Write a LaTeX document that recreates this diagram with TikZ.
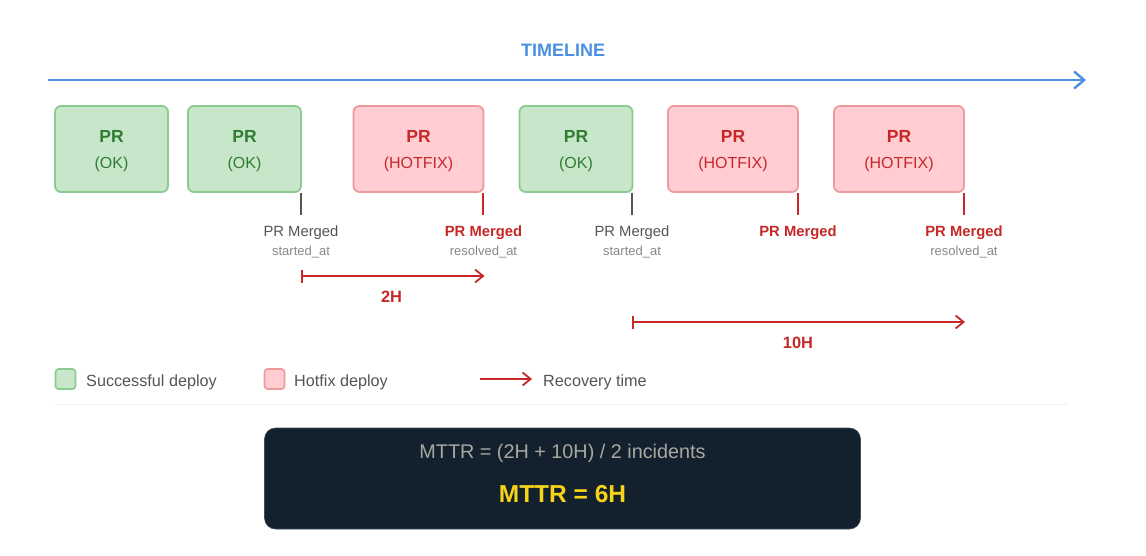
\documentclass[tikz,border=0pt]{standalone}
\usepackage{fontspec}
\setmainfont{Liberation Sans}
\usetikzlibrary{arrows.meta}
\definecolor{okfill}{HTML}{C8E6C9}
\definecolor{okdraw}{HTML}{8CCB8F}
\definecolor{oktext}{HTML}{2E7D32}
\definecolor{hffill}{HTML}{FFCDD2}
\definecolor{hfdraw}{HTML}{EF9A9A}
\definecolor{hftext}{HTML}{C62828}
\definecolor{tlblue}{HTML}{4A90E2}
\definecolor{graytext}{HTML}{555555}
\definecolor{lighttext}{HTML}{888888}
\definecolor{darkbg}{HTML}{13212F}
\definecolor{mttrgray}{HTML}{A8A8A0}
\definecolor{mttryellow}{HTML}{F7D417}
\begin{document}
\begin{tikzpicture}[x=1pt,y=-1pt,
  okbox/.style={draw=okdraw,fill=okfill,line width=1.8pt,rounded corners=6pt,minimum width=113pt,minimum height=86pt,inner sep=0pt},
  hfbox/.style={draw=hfdraw,fill=hffill,line width=1.8pt,rounded corners=6pt,minimum width=130pt,minimum height=86pt,inner sep=0pt},
  txt/.style={inner sep=0pt,anchor=base},
  boxtitle/.style={txt,font=\fontsize{17.5}{20}\selectfont\bfseries},
  boxsub/.style={txt,font=\fontsize{16}{19}\selectfont},
  mergedgray/.style={txt,font=\fontsize{14.8}{17}\selectfont,text=graytext},
  mergedred/.style={txt,font=\fontsize{14.8}{17}\selectfont\bfseries,text=hftext},
  smalllabel/.style={txt,font=\fontsize{13}{15}\selectfont,text=lighttext},
  tickgray/.style={draw=graytext,line width=1.6pt},
  tickred/.style={draw=hftext,line width=2pt},
  recarrow/.style={draw=hftext,line width=1.8pt,{Bar[width=13pt]}-{Straight Barb[length=8pt,width=13pt]}},
  legarrow/.style={draw=hftext,line width=1.8pt,-{Straight Barb[length=8pt,width=13pt]}},
  durlabel/.style={txt,font=\fontsize{16.4}{19}\selectfont\bfseries,text=hftext},
  legtext/.style={txt,font=\fontsize{16.2}{19}\selectfont,text=graytext},
]
\useasboundingbox (0,0) rectangle (1146,555);
\fill[white] (0,0) rectangle (1146,555);

% Timeline
\node[txt,font=\fontsize{18}{21}\selectfont\bfseries,text=tlblue] (tl) at (563,56) {TIMELINE};
\coordinate (tls) at (48,80);
\coordinate (tle) at (1086,80);
\draw[draw=tlblue,line width=2.4pt,-{Straight Barb[length=10pt,width=17pt]}] (tls) -- (tle);

% Boxes
\node[okbox] (b1) at (111.5,149) {};
\node[okbox] (b2) at (244.5,149) {};
\node[hfbox] (b3) at (418.5,149) {};
\node[okbox] (b4) at (576,149) {};
\node[hfbox] (b5) at (733,149) {};
\node[hfbox] (b6) at (899,149) {};

\node[boxtitle,text=oktext] (b1a) at (111.5,142) {PR};
\node[boxsub,text=oktext] (b1b) at (111.5,168.5) {(OK)};
\node[boxtitle,text=oktext] (b2a) at (244.5,142) {PR};
\node[boxsub,text=oktext] (b2b) at (244.5,168.5) {(OK)};
\node[boxtitle,text=hftext] (b3a) at (418.5,142) {PR};
\node[boxsub,text=hftext] (b3b) at (418.5,168.5) {(HOTFIX)};
\node[boxtitle,text=oktext] (b4a) at (576,142) {PR};
\node[boxsub,text=oktext] (b4b) at (576,168.5) {(OK)};
\node[boxtitle,text=hftext] (b5a) at (733,142) {PR};
\node[boxsub,text=hftext] (b5b) at (733,168.5) {(HOTFIX)};
\node[boxtitle,text=hftext] (b6a) at (899,142) {PR};
\node[boxsub,text=hftext] (b6b) at (899,168.5) {(HOTFIX)};

% Ticks
\coordinate (k2) at (301,215);
\coordinate (k3) at (483,215);
\coordinate (k4) at (632,215);
\coordinate (k5) at (798,215);
\coordinate (k6) at (964,215);
\draw[tickgray] (k2 |- b2.south) -- (k2);
\draw[tickred] (k3 |- b3.south) -- (k3);
\draw[tickgray] (k4 |- b4.south) -- (k4);
\draw[tickred] (k5 |- b5.south) -- (k5);
\draw[tickred] (k6 |- b6.south) -- (k6);

% Merge labels
\node[mergedgray] (m2) at (301,236.5) {PR Merged};
\node[smalllabel] (s2) at (301,255.5) {started\_at};
\node[mergedred] (m3) at (483.5,236.5) {PR Merged};
\node[smalllabel] (s3) at (483.5,255.5) {resolved\_at};
\node[mergedgray] (m4) at (632,236.5) {PR Merged};
\node[smalllabel] (s4) at (632,255.5) {started\_at};
\node[mergedred] (m5) at (798,236.5) {PR Merged};
\node[mergedred] (m6) at (964,236.5) {PR Merged};
\node[smalllabel] (s6) at (964,255.5) {resolved\_at};

% Recovery arrows
\coordinate (r1s) at (301,276);
\coordinate (r1e) at (484.5,276);
\draw[recarrow] (r1s) -- (r1e);
\node[durlabel] (d1) at (391.5,302) {2H};
\coordinate (r2s) at (632,322);
\coordinate (r2e) at (965,322);
\draw[recarrow] (r2s) -- (r2e);
\node[durlabel] (d2) at (798,348) {10H};

% Legend
\node[draw=okdraw,fill=okfill,line width=1.6pt,rounded corners=3pt,minimum width=20pt,minimum height=20pt,inner sep=0pt] (lg1) at (65.5,379) {};
\node[legtext,anchor=base west] (lg1t) at (86,386) {Successful deploy};
\node[draw=hfdraw,fill=hffill,line width=1.6pt,rounded corners=3pt,minimum width=20pt,minimum height=20pt,inner sep=0pt] (lg2) at (274.5,379) {};
\node[legtext,anchor=base west] (lg2t) at (294,386) {Hotfix deploy};
\coordinate (la1) at (480,379);
\coordinate (la2) at (532,379);
\draw[legarrow] (la1) -- (la2);
\node[legtext,anchor=base west] (lg3t) at (543,386) {Recovery time};

% Separator
\coordinate (sep1) at (55,404);
\coordinate (sep2) at (1068,404);
\draw[draw=black!6,line width=1pt] (sep1) -- (sep2);

% MTTR box
\node[fill=darkbg,draw=darkbg!80!white,line width=0.6pt,rounded corners=11pt,minimum width=596pt,minimum height=101pt,inner sep=0pt] (mttr) at (562.5,478.5) {};
\node[txt,font=\fontsize{19.8}{23}\selectfont,text=mttrgray] (mttr1) at (562.5,458) {MTTR = (2H + 10H) / 2 incidents};
\node[txt,font=\fontsize{24.5}{28}\selectfont\bfseries,text=mttryellow] (mttr2) at (562.5,502) {MTTR = 6H};
\end{tikzpicture}
\end{document}
